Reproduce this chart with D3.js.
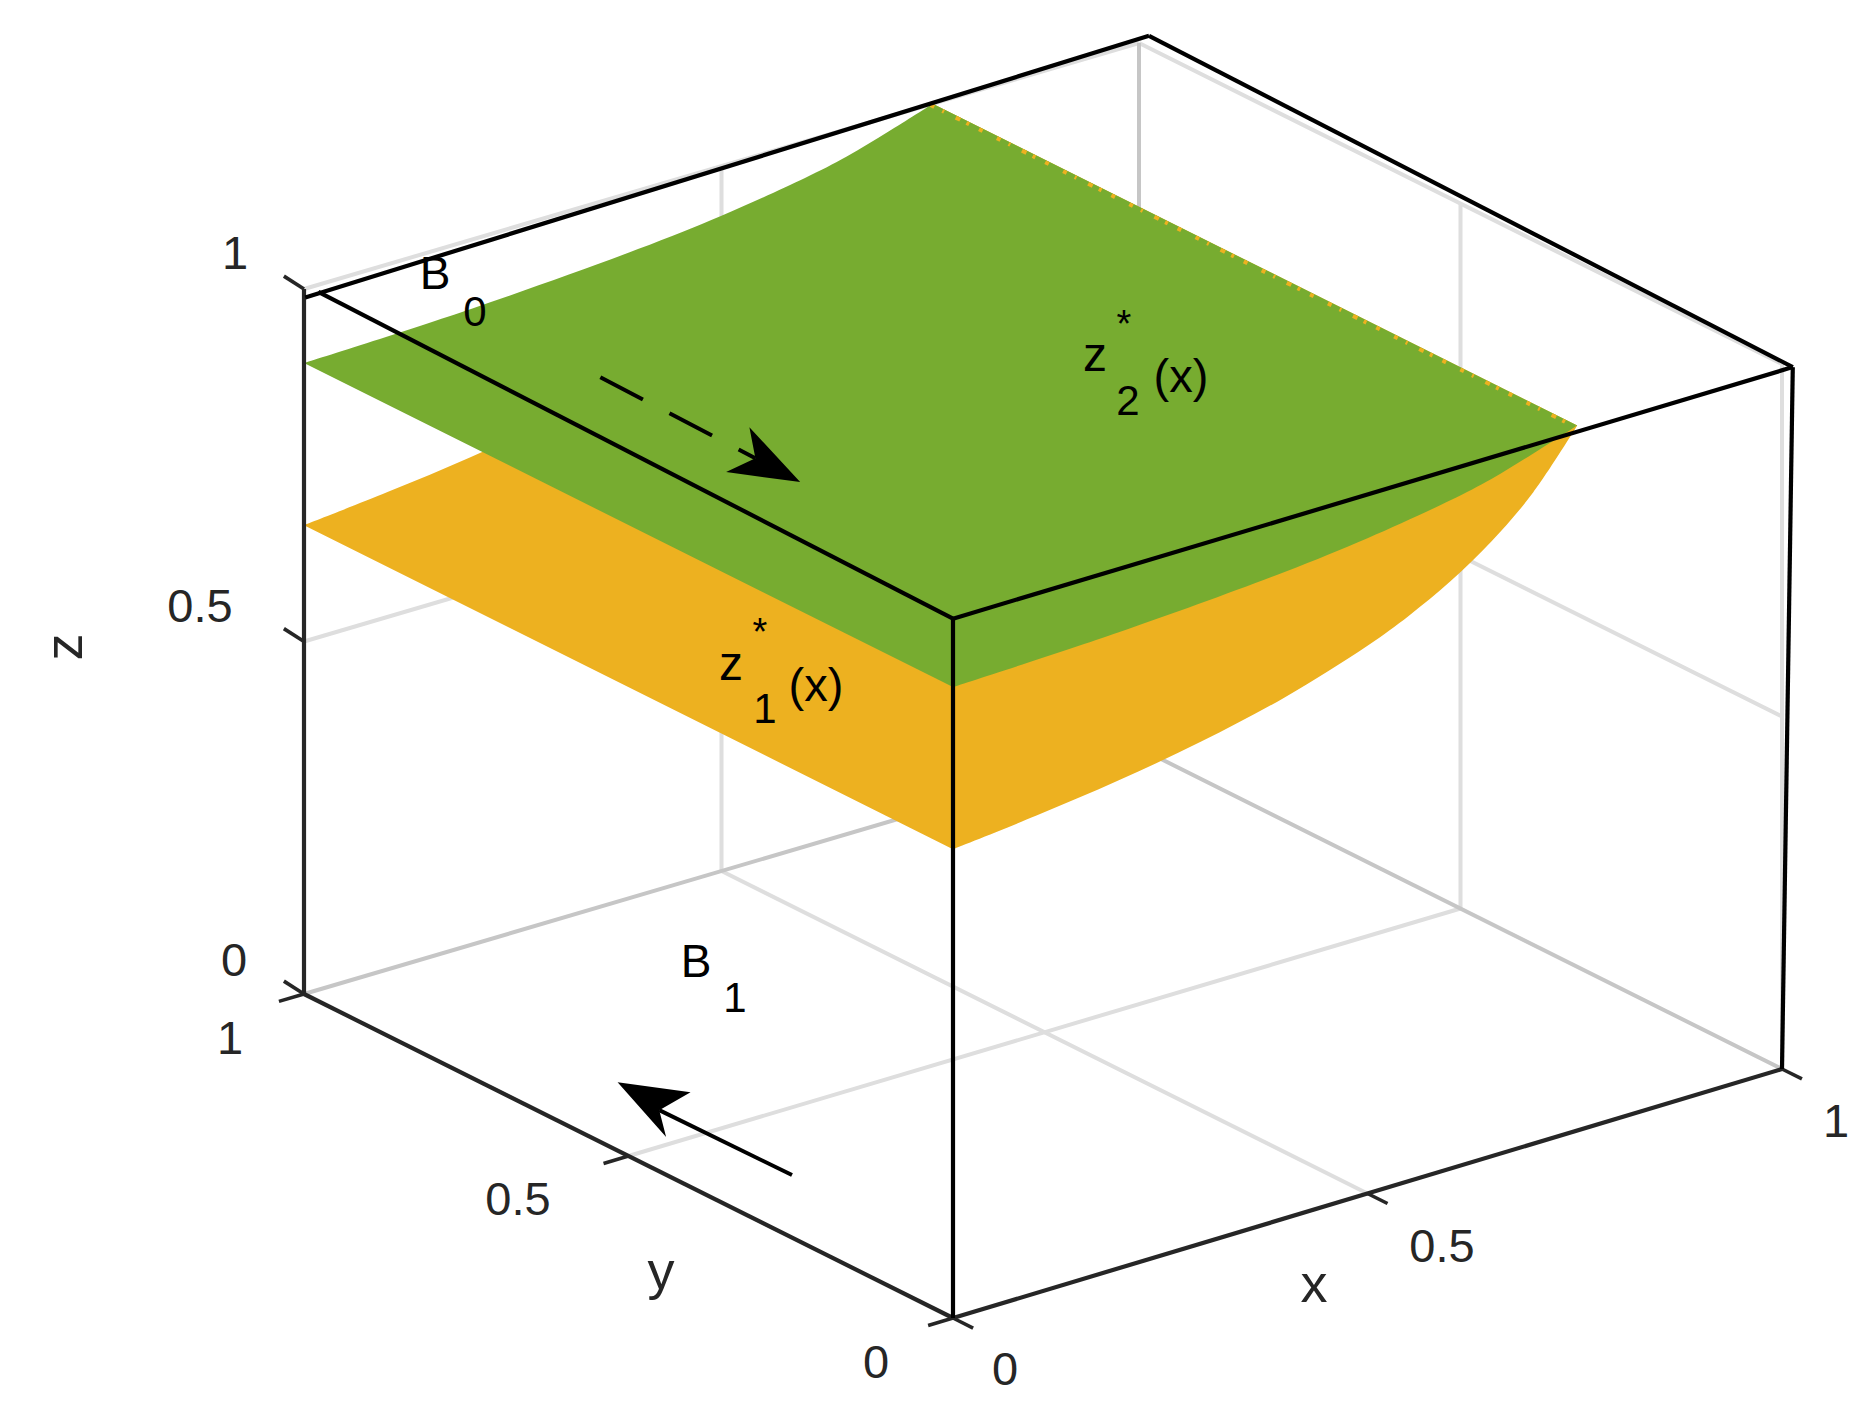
<!DOCTYPE html>
<html>
<head>
<meta charset="utf-8">
<script src="https://cdn.jsdelivr.net/npm/d3@7"></script>
<style>
  html, body { margin: 0; padding: 0; background: #fff; }
  svg { display: block; }
  text { font-family: "Liberation Sans", Arial, sans-serif; }
</style>
</head>
<body>
<svg id="chart" width="1871" height="1424"></svg>
<script>
// values
const axisTicks = [0, 0.5, 1]
const z1X = [0, 0.1, 0.2, 0.3, 0.4, 0.5, 0.55, 0.6, 0.65, 0.7, 0.753]
const z1Values = [0.665, 0.677, 0.692, 0.712, 0.739, 0.777, 0.802, 0.833, 0.8725, 0.924, 1]
const z2X = [0, 0.2, 0.4, 0.5, 0.6, 0.65, 0.7, 0.753]
const z2Values = [0.895, 0.902, 0.917, 0.9295, 0.948, 0.961, 0.979, 1]

// black frame drawn on top of the axes, slightly off the real box
const frameLines = [
  [[0, 0.978, 1.006], [0, 0, 0.992]],
  [[0, 0.998, 0.989], [1.012, 1, 1.006]],
  [[1.012, 1, 1.006], [1.013, 0, 0.991]],
  [[1.013, 0, 0.991], [0, 0, 0.992]],
  [[0, 0, 0.992], [0, 0, 0]],
  [[1.013, 0, 0.991], [1, 0, 0]]
]

// arrows, data coordinates: tail, notch, tip, barbs
const arrowTop = { tail: [0.0901, 0.659, 1], notch: [0.0847, 0.413, 1], tip: [0.0824, 0.341, 1], barbs: [[0.127, 0.4765, 1], [0.0417, 0.403, 1]] }
const arrowFloor = { tail: [0.0944, 0.369, 0], notch: [0.0923, 0.571, 0], tip: [0.103, 0.649, 0], barbs: [[0.1429, 0.5877, 0], [0.0569, 0.515, 0]] }

const green = '#77ac30'
const orange = '#edb120'
const axisColor = '#262626'
const gridLight = '#dedede'
const gridDark = '#c6c6c6'

// the box projects almost affine, each data axis gets its own pair of scales
const originX = 953, originY = 1318
const xToLeft = d3.scaleLinear().domain([0, 1]).range([0, 829])
const xToTop = d3.scaleLinear().domain([0, 1]).range([0, -249])
const yToLeft = d3.scaleLinear().domain([0, 1]).range([0, -649])
const yToTop = d3.scaleLinear().domain([0, 1]).range([0, -324])
const zToTop = d3.scaleLinear().domain([0, 1]).range([0, -705])

const project = ([x, y, z]) => [
  originX + xToLeft(x) + yToLeft(y) + 6 * x * y,
  originY + xToTop(x) + yToTop(y) + 3 * x * y + zToTop(z)
]

const svg = d3.select('#chart')
const line = d3.line().x(d => project(d)[0]).y(d => project(d)[1])
const curve = d3.line().x(d => project(d)[0]).y(d => project(d)[1]).curve(d3.curveCatmullRom)

const drawLines = (group, segments, color, width) => {
  group.selectAll(null)
    .data(segments)
    .enter().append('path')
      .attr('d', line)
      .attr('fill', 'none')
      .attr('stroke', color)
      .attr('stroke-width', width)
}

//grid on the floor and the two back walls
const grid = svg.append('g').attr('class', 'grid')
const lightLines = []
axisTicks.forEach(t => {
  if (t === 0.5) {
    lightLines.push([[t, 0, 0], [t, 1, 0]], [[0, t, 0], [1, t, 0]])
    lightLines.push([[t, 1, 0], [t, 1, 1]], [[1, t, 0], [1, t, 1]])
    lightLines.push([[0, 1, t], [1, 1, t]], [[1, 1, t], [1, 0, t]])
  }
  if (t === 1) {
    lightLines.push([[0, 1, t], [1, 1, t]], [[1, 1, t], [1, 0, t]])
    lightLines.push([[1, 0, 0], [1, 0, 1]])
  }
})
drawLines(grid, lightLines, gridLight, 4)
drawLines(grid, [
  [[0, 1, 0], [1, 1, 0]],
  [[1, 1, 0], [1, 0, 0]],
  [[1, 1, 0], [1, 1, 1]]
], gridDark, 4)

//surfaces, orange sits under the green one
const surfacePath = (xs, values) => {
  const front = xs.map((x, i) => [x, 0, values[i]])
  const back = xs.map((x, i) => [x, 1, values[i]]).reverse()
  return curve(front) + curve(back).replace(/^M/, 'L') + 'Z'
}
svg.append('path').attr('d', surfacePath(z1X, z1Values)).attr('fill', orange)
svg.append('path').attr('d', surfacePath(z2X, z2Values)).attr('fill', green)

// orange speckle along the far edge where the two surfaces meet
svg.append('path')
  .attr('d', line([[0.7505, 1, 0.999], [0.7505, 0, 0.999]]))
  .attr('fill', 'none')
  .attr('stroke', orange)
  .attr('stroke-width', 4)
  .attr('stroke-dasharray', '4 9 2 13 5 7 3 11 4 16')

//axis lines and ticks
const axes = svg.append('g').attr('class', 'axes')
drawLines(axes, [
  [[0, 0, 0], [1, 0, 0]],
  [[0, 0, 0], [0, 1, 0]],
  [[0, 1, 0], [0, 1, 1]]
], axisColor, 4.2)
const tickLines = []
axisTicks.forEach(t => {
  tickLines.push([[t, 0, 0], [t, -0.031, 0]])
  tickLines.push([[0, t, 0], [-0.03, t, 0]])
  tickLines.push([[0, 1, t], [0, 1.031, t + 0.004]])
})
drawLines(axes, tickLines, axisColor, 3.6)

//black frame
drawLines(svg.append('g').attr('class', 'frame'), frameLines, '#000', 4.2)

//arrows
const drawArrow = (arrow, dash) => {
  svg.append('path')
    .attr('d', line([arrow.tail, arrow.notch]))
    .attr('fill', 'none')
    .attr('stroke', '#000')
    .attr('stroke-width', 4)
    .attr('stroke-dasharray', dash)
  svg.append('path')
    .attr('d', line([arrow.tip, arrow.barbs[0], arrow.notch, arrow.barbs[1]]) + 'Z')
    .attr('fill', '#000')
}
drawArrow(arrowTop, '48 30')
drawArrow(arrowFloor, null)

//text, sx/sy is the middle of the glyph
const label = (str, sx, sy, size, color, mid = 0.35) => {
  return svg.append('text')
    .attr('x', sx)
    .attr('y', sy + size * mid)
    .attr('text-anchor', 'middle')
    .attr('font-size', size)
    .attr('fill', color)
    .text(str)
}

const tickSize = 47
const zTickSpots = [[234, 960], [200, 606], [235, 253]]
const yTickSpots = [[876, 1362], [518, 1199], [230, 1038]]
const xTickSpots = [[1005, 1369], [1442, 1246], [1836, 1121]]
axisTicks.forEach((t, i) => {
  label(t, zTickSpots[i][0], zTickSpots[i][1], tickSize, axisColor)
  label(t, yTickSpots[i][0], yTickSpots[i][1], tickSize, axisColor)
  label(t, xTickSpots[i][0], xTickSpots[i][1], tickSize, axisColor)
})

label('x', 1314, 1288, 54, axisColor, 0.26)
label('y', 661, 1280, 54, axisColor, 0.16)
svg.append('text')
  .attr('transform', 'translate(68,647) rotate(-90)')
  .attr('y', 14)
  .attr('text-anchor', 'middle')
  .attr('font-size', 54)
  .attr('fill', axisColor)
  .text('z')

label('B', 435, 273, 46, '#000')
label('0', 475, 311, 42, '#000')
label('B', 696, 961, 46, '#000')
label('1', 735, 997, 42, '#000')

label('z', 731, 668, 48, '#000', 0.26)
label('*', 760, 623, 38, '#000', 0.58)
label('1', 765, 708, 42, '#000')
label('(x)', 816, 688, 47, '#000', 0.27)

label('z', 1095, 359, 48, '#000', 0.26)
label('*', 1124, 315, 38, '#000', 0.58)
label('2', 1128, 400, 42, '#000')
label('(x)', 1181, 379, 47, '#000', 0.27)
</script>
</body>
</html>
